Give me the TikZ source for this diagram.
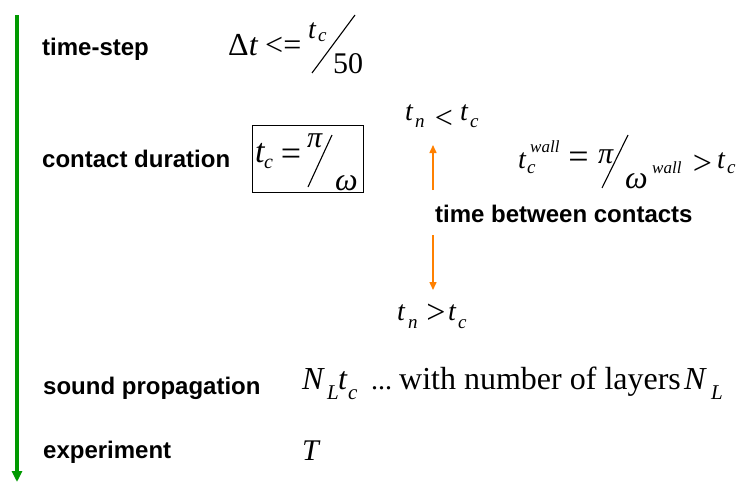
\documentclass[tikz,border=0pt]{standalone}
\usepackage{fontspec}
\setmainfont{Liberation Serif}
\setsansfont{Liberation Sans}
\usetikzlibrary{arrows.meta}
\newcommand\fs[1]{\fontsize{#1}{#1}\selectfont}
\definecolor{grn}{RGB}{0,153,0}
\definecolor{orng}{RGB}{255,128,0}
\tikzset{
  lab/.style={anchor=base west, inner sep=0pt, font=\fs{24}\sffamily\bfseries},
  g/.style={anchor=base west, inner sep=0pt, font=\fs{#1}},
  gi/.style={anchor=base west, inner sep=0pt, font=\fs{#1}\itshape},
  gc/.style={anchor=center, inner sep=0pt, font=\fs{#1}},
  slash/.style={line width=1.1pt},
  garrow/.style={draw=grn, line width=3.5pt, -{Triangle[width=10pt,length=11pt]}},
  oarrow/.style={draw=orng, line width=1.5pt, -{Triangle[width=7pt,length=8pt]}},
}
\begin{document}
\begin{tikzpicture}[x=1pt,y=-1pt]
\useasboundingbox (0,0) rectangle (736,482);
% time axis
\coordinate (gtop) at (17,15);
\coordinate (gbot) at (17,482);
\draw[garrow] (gtop) -- (gbot);
% labels
\node[lab] (l1) at (42,55) {time-step};
\node[lab] (l2) at (42,167) {contact duration};
\node[lab] (l3) at (435,222) {time between contacts};
\node[lab] (l4) at (43,394) {sound propagation};
\node[lab] (l5) at (43,458) {experiment};
% time-step formula
\node[g=32] (dt) at (228,55) {Δ\textit{t}};
\node[g=32] (le) at (265,55) {<=};
\node[gi=28] (dtn) at (308,38) {t};
\node[gi=19] (dtc) at (318,41) {c};
\node[g=30] (dtd) at (333,73) {50};
\draw[slash] (312,73) -- (355,15);
% contact duration (boxed)
\node[draw, line width=0.9pt, minimum width=111pt, minimum height=67pt, inner sep=0pt] (box) at (307.5,158.5) {};
\node[gi=34] (bt) at (255,162) {t};
\node[gi=20] (bc) at (264,168) {c};
\node[gc=36] (beq) at (291,157) {=};
\node[gi=30] (bpi) at (307,147) {π};
\draw[slash] (308,187) -- (332,135);
\node[gi=32] (bom) at (335,190) {ω};
% t_n < t_c
\node[gi=28] (u1) at (405,120) {t};
\node[gi=19] (u2) at (415,127) {n};
\node[gc=32] (u3) at (444,119.5) {<};
\node[gi=28] (u4) at (460,120) {t};
\node[gi=19] (u5) at (470,127) {c};
% t_n > t_c
\node[gi=28] (d1) at (397,320) {t};
\node[gi=19] (d2) at (408,328) {n};
\node[gc=34] (d3) at (436,314) {>};
\node[gi=28] (d4) at (448,320) {t};
\node[gi=19] (d5) at (458,328) {c};
% wall formula
\node[gi=28] (w1) at (518,168) {t};
\node[gi=17] (w2) at (530,152) {wall};
\node[gi=19] (w3) at (527,173) {c};
\node[gc=36] (w4) at (578.5,160) {=};
\node[gi=30] (w5) at (598,163) {π};
\draw[slash] (602,188) -- (628,135);
\node[gi=32] (w6) at (625,188) {ω};
\node[gi=17] (w7) at (652,173) {wall};
\node[gc=34] (w8) at (702.5,165) {>};
\node[gi=28] (w9) at (717,168) {t};
\node[gi=19] (w10) at (727,173) {c};
% orange arrows
\coordinate (oa1) at (433,190);
\coordinate (oa2) at (433,145);
\coordinate (ob1) at (433,235);
\coordinate (ob2) at (433,290);
\draw[oarrow] (oa1) -- (oa2);
\draw[oarrow] (ob1) -- (ob2);
% sound propagation
\node[gi=32] (s1) at (302,389) {N};
\node[gi=21] (s2) at (327,399) {L};
\node[gi=32] (s3) at (338,389) {t};
\node[gi=21] (s4) at (348,399) {c};
\node[g=28] (s5) at (371,389) {...};
\node[g=32] (s6) at (399,389) {with number of layers};
\node[gi=32] (s7) at (684,389) {N};
\node[gi=21] (s8) at (711,399) {L};
% experiment
\node[gi=30] (T) at (302,460) {T};
\end{tikzpicture}
\end{document}
